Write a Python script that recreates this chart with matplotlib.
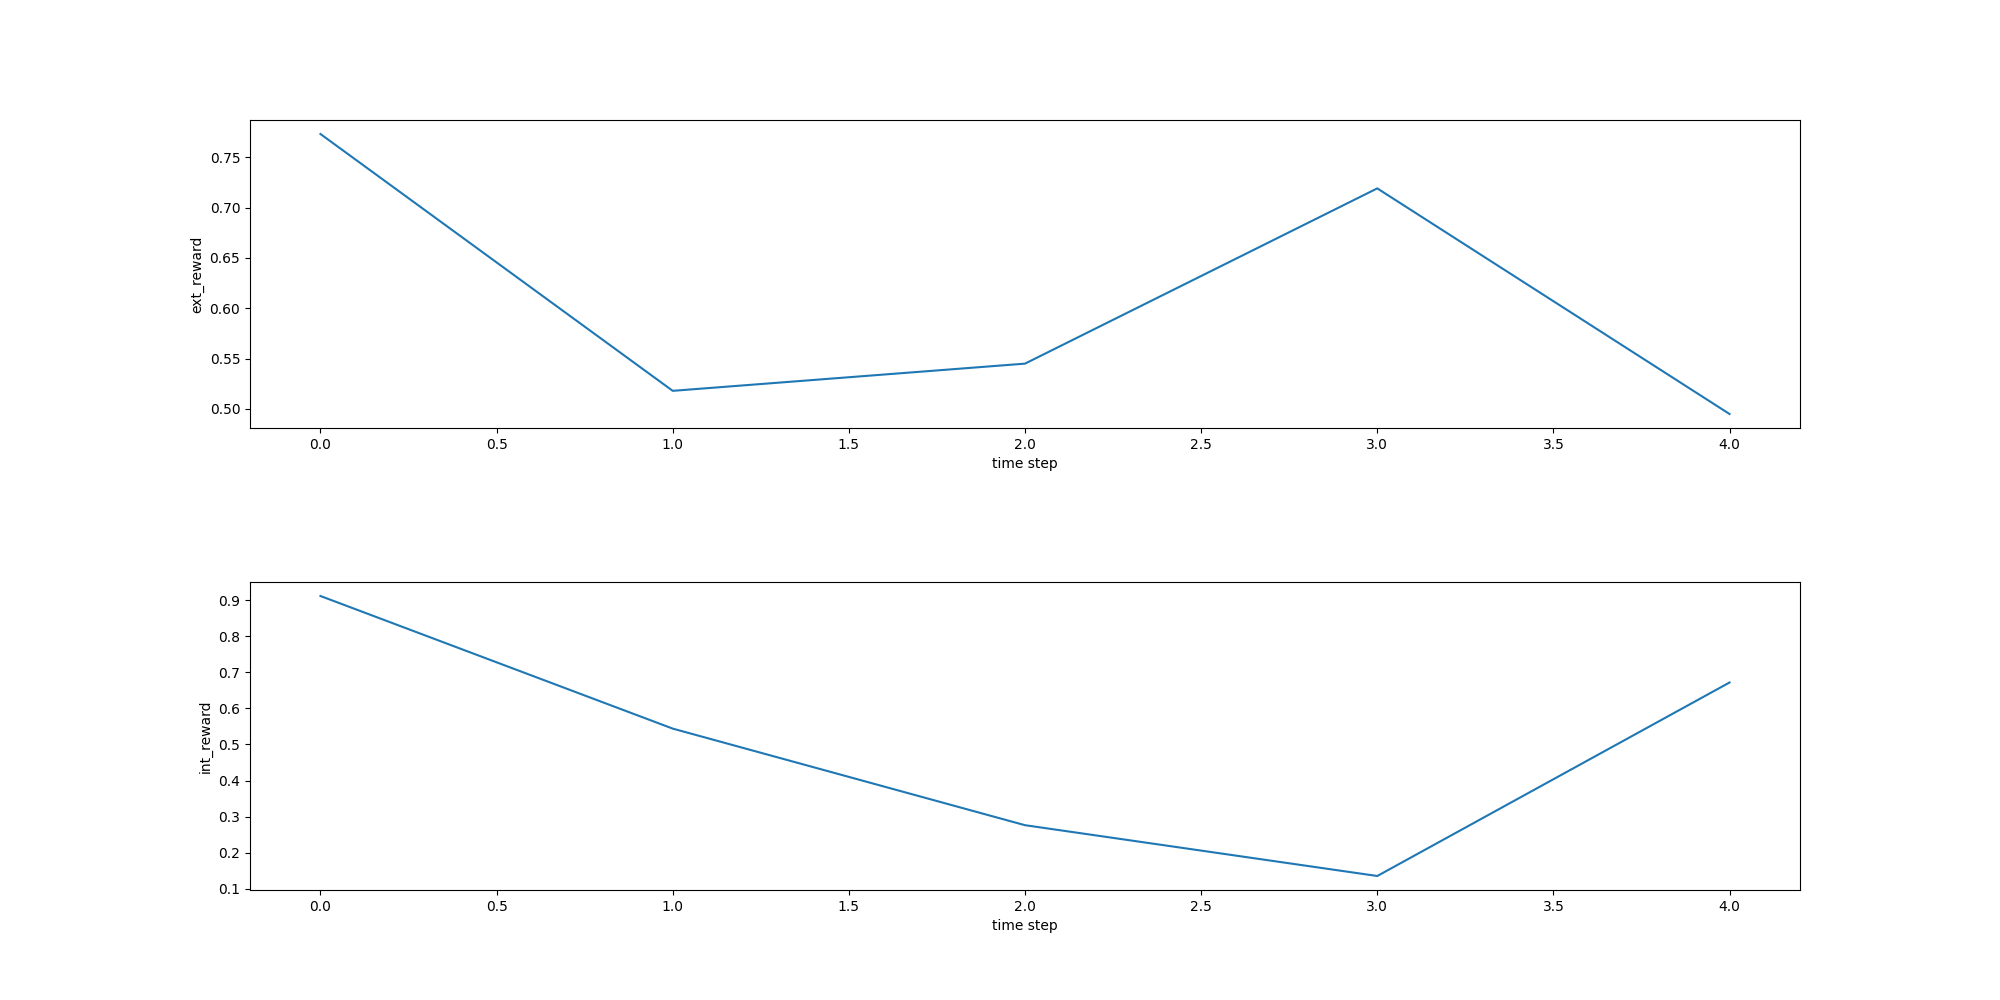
import matplotlib
matplotlib.use("Agg")
import matplotlib.pyplot as plt

# values
time_steps = [0, 1, 2, 3, 4]
ext_reward = [0.773, 0.518, 0.545, 0.719, 0.495]
int_reward = [0.912, 0.544, 0.276, 0.135, 0.672]

fig, (ax1, ax2) = plt.subplots(2, 1, figsize=(20, 10), dpi=100)
fig.subplots_adjust(hspace=0.5)

ax1.plot(time_steps, ext_reward)
ax1.set_xlabel("time step")
ax1.set_ylabel("ext_reward")

ax2.plot(time_steps, int_reward)
ax2.set_xlabel("time step")
ax2.set_ylabel("int_reward")

fig.savefig("out.png", dpi=100)
